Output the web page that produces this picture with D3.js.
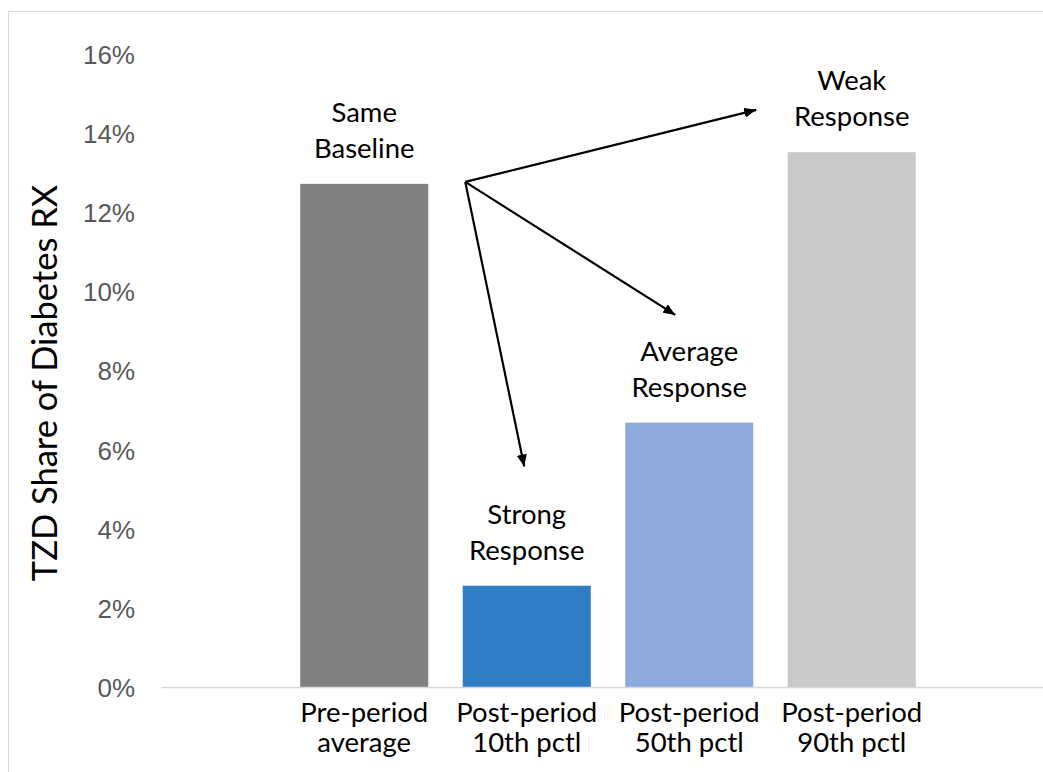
<!DOCTYPE html>
<html>
<head>
<meta charset="utf-8">
<script src="https://cdn.jsdelivr.net/npm/d3@7"></script>
<style>
  html, body { margin: 0; padding: 0; background: #fff; }
  svg { display: block; }
</style>
</head>
<body>
<svg id="chart" width="1043" height="772"></svg>
<script>
// ---- data ----
const categories = [["Pre-period", "average"], ["Post-period", "10th pctl"], ["Post-period", "50th pctl"], ["Post-period", "90th pctl"]];
const values = [12.72, 2.57, 6.69, 13.52];
const barColors = ["#808080", "#2f7ec4", "#8eaadc", "#c9c9c9"];
const yTicks = [0, 2, 4, 6, 8, 10, 12, 14, 16];
const yTitle = "TZD Share of Diabetes RX";
const annotations = [["Same", "Baseline"], ["Strong", "Response"], ["Average", "Response"], ["Weak", "Response"]];
// arrows: start near the baseline bar, end near each other bar (value units, offset from band centre)
const arrowStart = { cat: 0, dx: 101, v: 12.77 };
const arrowEnds = [
  { cat: 1, dx: -2.5, v: 5.58 },
  { cat: 2, dx: -14, v: 9.41 },
  { cat: 3, dx: -95.5, v: 14.59 }
];

// ---- layout ----
const svg = d3.select("#chart");
const keys = categories.map((c, i) => i);

const x = d3.scaleBand().domain(keys).range([283, 933]).paddingInner(0.212).paddingOuter(0.106);
const y = d3.scaleLinear().domain([0, 16]).range([687.5, 54]);
const cx = i => x(i) + x.bandwidth() / 2;

// chart border
svg.append("rect").attr("x", 8.5).attr("y", 11.5).attr("width", 1100).attr("height", 800)
  .attr("fill", "none").attr("stroke", "#d9d9d9").attr("stroke-width", 1);

// bars
svg.selectAll("rect.bar").data(values).join("rect").attr("class", "bar")
  .attr("x", (d, i) => x(i)).attr("width", x.bandwidth())
  .attr("y", d => y(d)).attr("height", d => y(0) - y(d))
  .attr("fill", (d, i) => barColors[i]);

// baseline axis line
svg.append("line").attr("x1", 161).attr("x2", 1043).attr("y1", y(0)).attr("y2", y(0))
  .attr("stroke", "#d9d9d9").attr("stroke-width", 1.3);

// y axis labels
const yAxis = d3.axisLeft(y).tickValues(yTicks).tickFormat(d => d + "%").tickSize(0).tickPadding(0);
const yg = svg.append("g").attr("transform", "translate(135,0)").call(yAxis);
yg.select(".domain").remove();
yg.selectAll("text").attr("font-family", "'Liberation Sans', Arial, sans-serif")
  .attr("font-size", 26).attr("fill", "#595959").attr("dy", "0.35em");

// x axis labels
const xg = svg.append("g");
categories.forEach((lines, i) => {
  const t = xg.append("text").attr("x", cx(i)).attr("y", 722).attr("text-anchor", "middle")
    .attr("font-family", "Lato, sans-serif").attr("font-size", 27.5).attr("fill", "#000");
  lines.forEach((l, j) => t.append("tspan").attr("x", cx(i)).attr("dy", j === 0 ? 0 : 30).text(l));
});

// y title
svg.append("text").attr("transform", "translate(57,383) rotate(-90)").attr("text-anchor", "middle")
  .attr("font-family", "Lato, sans-serif").attr("font-size", 34.5).attr("fill", "#000").text(yTitle);

// annotations above bars
annotations.forEach((lines, i) => {
  const t = svg.append("text").attr("x", cx(i)).attr("y", y(values[i]) - 26 - 36)
    .attr("text-anchor", "middle").attr("font-family", "Lato, sans-serif")
    .attr("font-size", 27.5).attr("fill", "#000");
  lines.forEach((l, j) => t.append("tspan").attr("x", cx(i)).attr("dy", j === 0 ? 0 : 36).text(l));
});

// arrows
svg.append("defs").append("marker").attr("id", "ah").attr("viewBox", "0 0 12 10")
  .attr("refX", 12).attr("refY", 5).attr("markerWidth", 12).attr("markerHeight", 10)
  .attr("markerUnits", "userSpaceOnUse").attr("orient", "auto")
  .append("path").attr("d", "M0,0 L12,5 L0,10 Z").attr("fill", "#000");

const sx = cx(arrowStart.cat) + arrowStart.dx, sy = y(arrowStart.v);
svg.selectAll("line.arrow").data(arrowEnds).join("line").attr("class", "arrow")
  .attr("x1", sx).attr("y1", sy)
  .attr("x2", d => cx(d.cat) + d.dx).attr("y2", d => y(d.v))
  .attr("stroke", "#000").attr("stroke-width", 2.2).attr("marker-end", "url(#ah)");
</script>
</body>
</html>
